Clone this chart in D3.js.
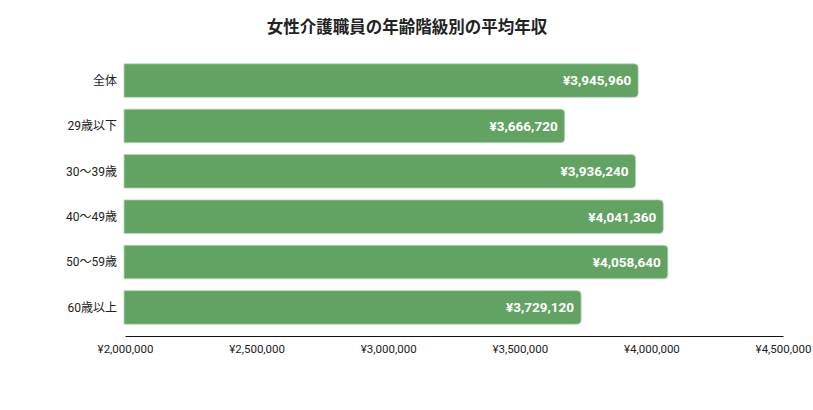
<!DOCTYPE html>
<html>
<head>
<meta charset="utf-8">
<script src="https://cdn.jsdelivr.net/npm/d3@7"></script>
<style>
  body { margin: 0; background: #fff; }
  text { font-family: Roboto, "Noto Sans CJK JP", sans-serif; }
</style>
</head>
<body>
<div id="chart"></div>
<script>
const categories = ["全体", "29歳以下", "30～39歳", "40～49歳", "50～59歳", "60歳以上"];
const values = [3945960, 3666720, 3936240, 4041360, 4058640, 3729120];
const xTicks = [2000000, 2500000, 3000000, 3500000, 4000000, 4500000];
const title = "女性介護職員の年齢階級別の平均年収";

function Draw() {
  const width = 813;
  const height = 410;
  const margin = { top: 52, right: 30, bottom: 74, left: 125 };

  const svg = d3
    .select("#chart")
    .append("svg")
    .attr("width", width)
    .attr("height", height)
    .style("background-color", "white");

  const x = d3
    .scaleLinear()
    .domain([2000000, 4500000])
    .range([margin.left, width - margin.right]);

  const y = d3
    .scaleBand()
    .domain(categories)
    .range([margin.top, height - margin.bottom])
    .padding(0.26);

  const fmt = (v) => "¥" + d3.format(",")(v);

  // title
  svg
    .append("text")
    .attr("x", 407)
    .attr("y", 33)
    .attr("text-anchor", "middle")
    .style("font-family", '"Noto Sans CJK JP", sans-serif')
    .style("font-size", "16.5px")
    .style("font-weight", "bold")
    .attr("fill", "#222")
    .text(title);

  // bars: square on the left, rounded on the right
  const r = 4;
  const barPath = (d, i) => {
    const x0 = x(2000000) - 1;
    const x1 = x(values[i]) + 1;
    const y0 = y(d);
    const h = y.bandwidth();
    return `M${x0},${y0}H${x1 - r}Q${x1},${y0} ${x1},${y0 + r}V${y0 + h - r}Q${x1},${y0 + h} ${x1 - r},${y0 + h}H${x0}Z`;
  };

  svg
    .append("g")
    .selectAll("path")
    .data(categories)
    .enter()
    .append("path")
    .attr("d", barPath)
    .attr("fill", "#62a363")
    .attr("stroke", "#b6d9b7")
    .attr("stroke-width", 0.8);

  // value labels
  svg
    .append("g")
    .selectAll("text")
    .data(categories)
    .enter()
    .append("text")
    .attr("x", (d, i) => x(values[i]) - 6)
    .attr("y", (d) => y(d) + y.bandwidth() / 2)
    .attr("dy", "0.36em")
    .attr("text-anchor", "end")
    .attr("fill", "white")
    .style("font-size", "13.5px")
    .style("font-weight", "bold")
    .text((d, i) => fmt(values[i]));

  // category labels
  svg
    .append("g")
    .selectAll("text")
    .data(categories)
    .enter()
    .append("text")
    .attr("x", margin.left - 8)
    .attr("y", (d) => y(d) + y.bandwidth() / 2)
    .attr("dy", "0.36em")
    .attr("text-anchor", "end")
    .attr("fill", "#222")
    .style("font-family", 'Roboto, "Noto Sans CJK JP", sans-serif')
    .style("font-size", "12px")
    .text((d) => d);

  // x axis
  const axis = svg
    .append("g")
    .attr("transform", `translate(0,${height - margin.bottom})`)
    .call(d3.axisBottom(x).tickValues(xTicks).tickFormat(fmt).tickSize(0).tickPadding(9));

  axis.select(".domain").attr("stroke", "#111").attr("stroke-width", 1.2);
  axis
    .selectAll("text")
    .style("font-family", "Roboto, sans-serif")
    .style("font-size", "11.5px")
    .attr("fill", "#222");
}

Draw();
</script>
</body>
</html>
